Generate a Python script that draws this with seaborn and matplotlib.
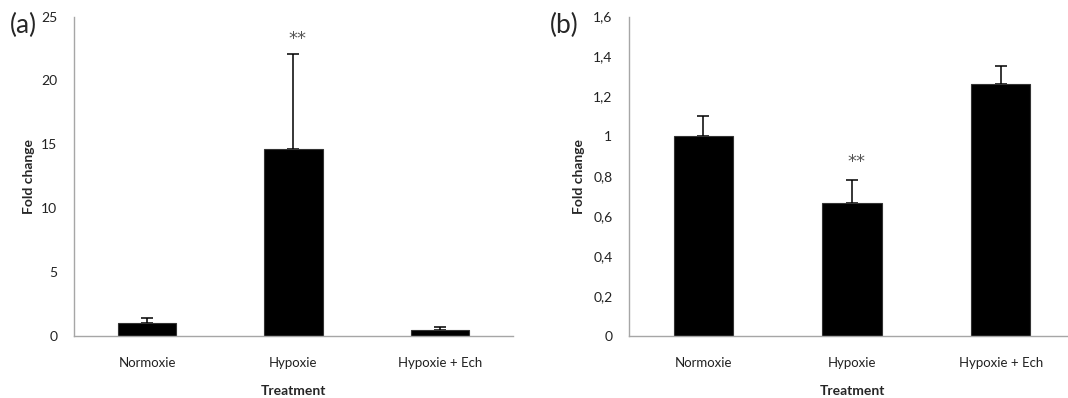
import numpy as np
import matplotlib
matplotlib.use('Agg')
import matplotlib.pyplot as plt
import seaborn as sns
from matplotlib.ticker import FuncFormatter

# data
treatments = ['Normoxie', 'Hypoxie', 'Hypoxie + Ech']
fold_a = [1.0, 14.6, 0.47]
err_a = [0.38, 7.5, 0.26]
fold_b = [1.0, 0.668, 1.264]
err_b = [0.10, 0.115, 0.09]
ticks_a = [0, 5, 10, 15, 20, 25]
ticks_b = [0, 0.2, 0.4, 0.6, 0.8, 1.0, 1.2, 1.4, 1.6]

sns.set_style('white')
plt.rcParams['font.family'] = ['Lato', 'DejaVu Sans']

fig = plt.figure(figsize=(10.68, 3.98), dpi=100)
ax_a = fig.add_axes([0.0693, 0.1558, 0.411, 0.8027])
ax_b = fig.add_axes([0.589, 0.1558, 0.4176, 0.8027])


def panel(ax, vals, errs, ticks, star_y, fmt):
    ax.errorbar(x=np.arange(len(vals)), y=vals, yerr=[np.zeros(len(vals)), errs],
                fmt='none', ecolor='black', elinewidth=1.1, capsize=4, capthick=1.1, zorder=1)
    sns.barplot(x=treatments, y=vals, color='black', width=0.4, saturation=1,
                edgecolor='#333333', linewidth=0.8, ax=ax, zorder=2)
    ax.set_xlim(-0.5, 2.5)
    ax.set_ylim(0, ticks[-1])
    ax.set_yticks(ticks)
    ax.yaxis.set_major_formatter(FuncFormatter(fmt))
    for s in ['top', 'right']:
        ax.spines[s].set_visible(False)
    for s in ['left', 'bottom']:
        ax.spines[s].set_color('#a6a6a6')
        ax.spines[s].set_linewidth(1.0)
    ax.tick_params(axis='y', length=0, pad=12, labelsize=10, labelcolor='#222222')
    ax.tick_params(axis='x', length=0, pad=15, labelsize=9.5, labelcolor='#222222')
    ax.set_xlabel('Treatment', fontweight='bold', fontsize=10, labelpad=12)
    ax.set_ylabel('Fold change', fontweight='bold', fontsize=10)
    ax.text(1.03, star_y, '**', ha='center', va='baseline', fontsize=13,
            color='#555555', family='DejaVu Sans')


panel(ax_a, fold_a, err_a, ticks_a, 22.85, lambda v, p: '{:g}'.format(v))
panel(ax_b, fold_b, err_b, ticks_b, 0.845, lambda v, p: '{:g}'.format(round(v, 1)).replace('.', ','))
ax_a.yaxis.set_label_coords(-0.088, 0.5)
ax_b.yaxis.set_label_coords(-0.099, 0.5)

fig.text(0.009, 0.935, '(a)', fontsize=19, va='center', ha='left')
fig.text(0.515, 0.935, '(b)', fontsize=19, va='center', ha='left')

plt.savefig('out.png', dpi=100)
